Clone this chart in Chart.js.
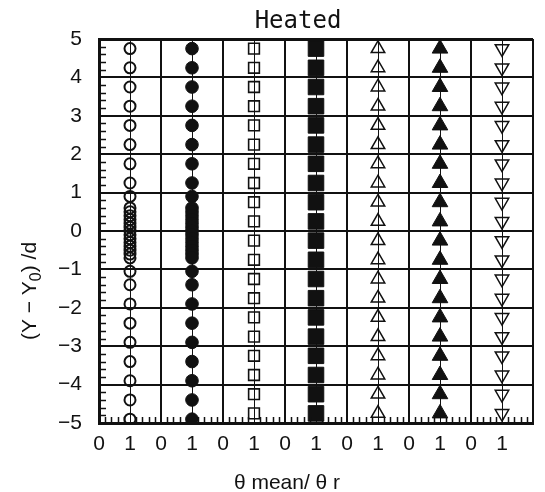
<!DOCTYPE html>
<html>
<head>
<meta charset="utf-8">
<script src="https://cdn.jsdelivr.net/npm/chart.js@4"></script>
<style>
html,body{margin:0;padding:0;background:#fff}
</style>
</head>
<body>
<canvas id="myChart" width="545" height="492"></canvas>
<script>
// values, one column of markers per panel (x = 1 of each panel)
const panelX = [1, 3, 5, 7, 9, 11, 13];
const xTickLabels = ["0","1","0","1","0","1","0","1","0","1","0","1","0","1"];

const yOpenCircle = [4.75, 4.25, 3.75, 3.25, 2.75, 2.25, 1.75, 1.25, 0.9,
  0.6, 0.5, 0.4, 0.3, 0.2, 0.1, 0, -0.1, -0.2, -0.3, -0.4, -0.5, -0.6, -0.7,
  -1.05, -1.4, -1.9, -2.4, -2.9, -3.4, -3.9, -4.4, -4.9];
const yFilledCircle = [4.75, 4.25, 3.75, 3.25, 2.75, 2.25, 1.75, 1.25, 0.9,
  0.6, 0.5, 0.4, 0.3, 0.2, 0.1, 0, -0.1, -0.2, -0.3, -0.4, -0.5, -0.6, -0.7,
  -1.05, -1.4, -1.9, -2.4, -2.9, -3.4, -3.9, -4.4, -4.9];
const yOpenSquare = [4.75, 4.25, 3.75, 3.25, 2.75, 2.25, 1.75, 1.25, 0.75, 0.25,
  -0.25, -0.75, -1.25, -1.75, -2.25, -2.75, -3.25, -3.75, -4.25, -4.75];
const yFilledSquare = [4.75, 4.25, 3.75, 3.25, 2.75, 2.25, 1.75, 1.25, 0.75, 0.25,
  -0.25, -0.75, -1.25, -1.75, -2.25, -2.75, -3.25, -3.75, -4.25, -4.75];
const yOpenTriangle = [4.75, 4.25, 3.75, 3.25, 2.75, 2.25, 1.75, 1.25, 0.75, 0.25,
  -0.25, -0.75, -1.25, -1.75, -2.25, -2.75, -3.25, -3.75, -4.25, -4.75];
const yFilledTriangle = [4.75, 4.25, 3.75, 3.25, 2.75, 2.25, 1.75, 1.25, 0.75, 0.25,
  -0.25, -0.75, -1.25, -1.75, -2.25, -2.75, -3.25, -3.75, -4.25, -4.75];
const yDownTriangle = [4.75, 4.25, 3.75, 3.25, 2.75, 2.25, 1.75, 1.25, 0.75, 0.25,
  -0.25, -0.75, -1.25, -1.75, -2.25, -2.75, -3.25, -3.75, -4.25, -4.75];

const chartTitle = "Heated";
const xTitle = "\u03b8 mean/ \u03b8 r";
const ink = "#111";
const tickFont = { family: "'Liberation Sans', Arial, sans-serif", size: 21 };

function column(k, ys) {
  return ys.map(v => ({ x: panelX[k], y: v }));
}

const seriesList = [
  { data: column(0, yOpenCircle), pointStyle: "circle", pointRadius: 5.5, pointBorderWidth: 2, pointBackgroundColor: "rgba(0,0,0,0)" },
  { data: column(1, yFilledCircle), pointStyle: "circle", pointRadius: 6.3, pointBorderWidth: 1, pointBackgroundColor: ink },
  { data: column(2, yOpenSquare), pointStyle: "rect", pointRadius: 7.6, pointBorderWidth: 1.6, pointBackgroundColor: "rgba(0,0,0,0)" },
  { data: column(3, yFilledSquare), pointStyle: "rect", pointRadius: 11, pointBorderWidth: 1, pointBackgroundColor: ink },
  { data: column(4, yOpenTriangle), pointStyle: "triangle", pointRadius: 7.8, pointBorderWidth: 1.5, pointBackgroundColor: "rgba(0,0,0,0)" },
  { data: column(5, yFilledTriangle), pointStyle: "triangle", pointRadius: 9, pointBorderWidth: 1, pointBackgroundColor: ink },
  { data: column(6, yDownTriangle), pointStyle: "triangle", rotation: 180, pointRadius: 7.8, pointBorderWidth: 1.5, pointBackgroundColor: "rgba(0,0,0,0)" },
].map(d => Object.assign({ pointBorderColor: ink, showLine: false }, d));

// inward minor ticks every 0.2 and the titles
const extras = {
  id: "extras",
  afterDraw(chart) {
    const { ctx, chartArea: a, scales: { x, y } } = chart;
    ctx.save();
    ctx.strokeStyle = ink;
    ctx.lineWidth = 1.5;
    ctx.beginPath();
    for (let i = 1; i < 70; i++) {
      if (i % 5 === 0) continue;
      const px = Math.round(x.getPixelForValue(i * 0.2)) + 0.5;
      ctx.moveTo(px, a.bottom);
      ctx.lineTo(px, a.bottom - 6);
    }
    for (let i = 1; i < 50; i++) {
      if (i % 5 === 0) continue;
      const py = Math.round(y.getPixelForValue(-5 + i * 0.2)) + 0.5;
      ctx.moveTo(a.left, py);
      ctx.lineTo(a.left + 7, py);
    }
    ctx.stroke();

    ctx.fillStyle = ink;
    ctx.textAlign = "center";
    ctx.textBaseline = "alphabetic";
    ctx.font = "24px 'DejaVu Sans Mono', monospace";
    ctx.fillText(chartTitle, 298, 28);

    ctx.font = "21px 'Liberation Sans', Arial, sans-serif";
    ctx.fillText(xTitle, 287, 489);

    // y title with subscript 0
    const big = "21px 'Liberation Sans', Arial, sans-serif";
    const small = "16px 'Liberation Sans', Arial, sans-serif";
    const parts = [["(Y \u2212 Y", big, 0], ["0", small, 5], [") /d", big, 0]];
    let w = 0;
    parts.forEach(p => { ctx.font = p[1]; w += ctx.measureText(p[0]).width; });
    ctx.translate(36, 291);
    ctx.rotate(-Math.PI / 2);
    ctx.textAlign = "left";
    let cx = -w / 2;
    parts.forEach(p => {
      ctx.font = p[1];
      ctx.fillText(p[0], cx, p[2]);
      cx += ctx.measureText(p[0]).width;
    });
    ctx.restore();
  }
};

new Chart("myChart", {
  type: "scatter",
  data: { datasets: seriesList },
  options: {
    responsive: false,
    devicePixelRatio: 1,
    animation: false,
    events: [],
    layout: { padding: { top: 39, left: 0, right: 0, bottom: 0 } },
    plugins: { legend: { display: false }, tooltip: { enabled: false } },
    scales: {
      x: {
        type: "linear",
        min: 0,
        max: 14,
        afterFit(s) { s.height = 69; },
        ticks: {
          stepSize: 1,
          autoSkip: false,
          maxRotation: 0,
          padding: 9,
          color: ink,
          font: tickFont,
          callback: v => xTickLabels[v] ?? ""
        },
        grid: {
          drawTicks: false,
          color: ink,
          lineWidth: c => (c.tick && c.tick.value % 2 === 0) ? 2 : 1
        },
        border: { display: true, width: 3, color: ink }
      },
      y: {
        min: -5,
        max: 5,
        afterFit(s) { s.width = 99; },
        ticks: {
          stepSize: 1,
          padding: 17,
          color: ink,
          font: tickFont,
          callback: v => String(v).replace("-", "\u2212")
        },
        grid: {
          drawTicks: false,
          color: ink,
          lineWidth: c => (c.tick && c.tick.value === 5) ? 3 : 2
        },
        border: { display: true, width: 3, color: ink }
      }
    }
  },
  plugins: [extras]
});
</script>
</body>
</html>
